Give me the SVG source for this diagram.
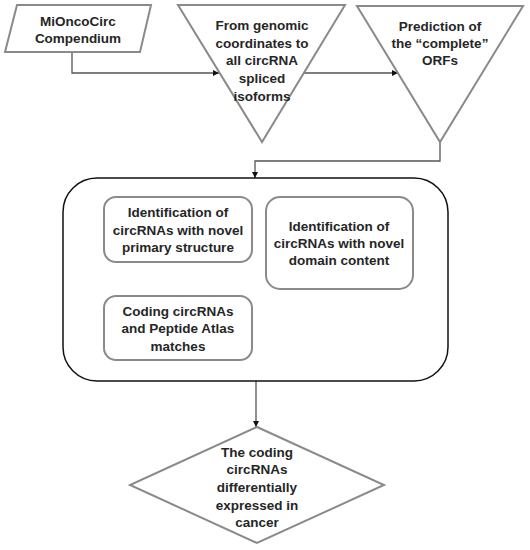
<svg xmlns="http://www.w3.org/2000/svg" width="530" height="550" viewBox="0 0 530 550">
<defs>
<marker id="arr" viewBox="0 0 10 10" refX="10" refY="5" markerWidth="6" markerHeight="6" orient="auto" markerUnits="userSpaceOnUse"><path d="M0,0 L10,5 L0,10 z" fill="#111"/></marker>
<style>
.shape{fill:#fff;stroke:#8a8a8a;stroke-width:2}
.big{fill:#fff;stroke:#111;stroke-width:1.5}
.conn{fill:none;stroke:#555;stroke-width:1.3;marker-end:url(#arr)}
text{font-family:"Liberation Sans",Arial,sans-serif;font-weight:bold;font-size:13.5px;fill:#262626;text-anchor:middle}
</style>
</defs>
<rect width="530" height="550" fill="#fff"/>
<g id="connectors">
<polyline class="conn" points="72,52 72,73 219,73"/>
<line class="conn" x1="303" y1="73" x2="398" y2="73"/>
<polyline class="conn" points="440,142 440,161 255,161 255,178"/>
<line class="conn" x1="178" y1="262" x2="178" y2="296"/>
<line class="conn" x1="256" y1="381" x2="256" y2="427"/>
</g>
<g id="compendium">
<polygon class="shape" points="17,5 151,5 140,52 5,52"/>
<text x="78" y="26">MiOncoCirc</text>
<text x="78" y="43">Compendium</text>
</g>
<g id="isoforms">
<polygon class="shape" points="178,5 345,5 262,142"/>
<text x="262" y="30">From genomic</text>
<text x="262" y="48">coordinates to</text>
<text x="262" y="65">all circRNA</text>
<text x="262" y="83">spliced</text>
<text x="262" y="101">isoforms</text>
</g>
<g id="orfs">
<polygon class="shape" points="357,6 523,6 440,142"/>
<text x="440" y="31">Prediction of</text>
<text x="440" y="48">the “complete”</text>
<text x="440" y="65">ORFs</text>
</g>
<g id="container">
<rect class="big" x="63" y="178" width="385" height="203" rx="34"/>
</g>
<g id="primary">
<rect class="shape" x="104" y="197" width="148" height="65" rx="12"/>
<text x="178" y="217">Identification of</text>
<text x="178" y="235">circRNAs with novel</text>
<text x="178" y="252">primary structure</text>
</g>
<g id="domain">
<rect class="shape" x="266" y="197" width="147" height="92" rx="14"/>
<text x="339" y="231">Identification of</text>
<text x="339" y="248">circRNAs with novel</text>
<text x="339" y="265">domain content</text>
</g>
<g id="peptide">
<rect class="shape" x="104" y="296" width="148" height="64" rx="12"/>
<text x="178" y="316">Coding circRNAs</text>
<text x="178" y="333">and Peptide Atlas</text>
<text x="178" y="351">matches</text>
</g>
<g id="cancer">
<polygon class="shape" points="257,427 384,485 257,543 130,485"/>
<text x="257" y="457">The coding</text>
<text x="257" y="474">circRNAs</text>
<text x="257" y="492">differentially</text>
<text x="257" y="510">expressed in</text>
<text x="257" y="527">cancer</text>
</g>
</svg>
